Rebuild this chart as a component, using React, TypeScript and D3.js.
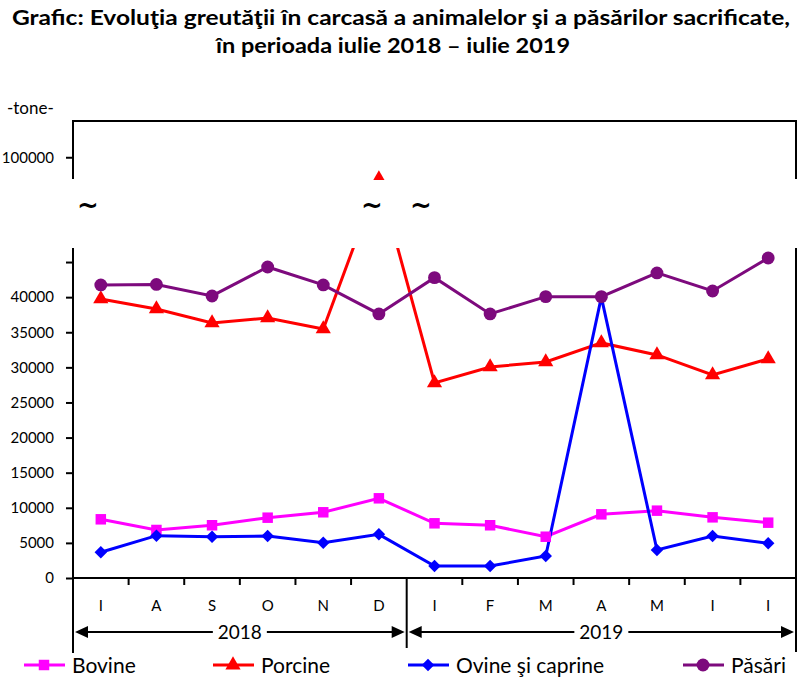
import React, { useEffect, useRef } from 'react';
import * as d3 from 'd3';

// months from iulie 2018 to iulie 2019
const months = ['I', 'A', 'S', 'O', 'N', 'D', 'I', 'F', 'M', 'A', 'M', 'I', 'I'];
const yearSpans = [
  { label: '2018', from: 0, to: 6 },
  { label: '2019', from: 6, to: 13 },
];

// tone, carcass weight
const bovine = [8360, 6840, 7510, 8590, 9360, 11350, 7790, 7510, 5880, 9070, 9590, 8640, 7880];
const porcine = [39740, 38320, 36320, 37040, 35470, 97000, 27780, 30060, 30770, 33480, 31770, 28920, 31200];
const ovine = [3660, 6030, 5890, 5980, 5030, 6220, 1710, 1710, 3130, 40000, 3990, 5980, 4940];
const pasari = [41740, 41810, 40170, 44300, 41740, 37610, 42780, 37610, 40070, 40070, 43450, 40880, 45580];

const tickValues = [0, 5000, 10000, 15000, 20000, 25000, 30000, 35000, 40000, 45000, 100000];
const tickLabels = ['0', '5000', '10000', '15000', '20000', '25000', '30000', '35000', '40000', '', '100000'];

// axis break: values between lowMax and highMin are not shown
const lowMax = 47000;
const highMin = 97000;
const highMax = 105000;

const series = [
  { name: 'Bovine', values: bovine, color: '#ff00ff', marker: 'square' },
  { name: 'Porcine', values: porcine, color: '#ff0000', marker: 'triangle' },
  { name: 'Ovine şi caprine', values: ovine, color: '#0000ff', marker: 'diamond' },
  { name: 'Păsări', values: pasari, color: '#7d0a7d', marker: 'circle' },
];

const FONT = 'Lato, "Open Sans", sans-serif';

function markerPath(kind: string) {
  if (kind === 'square') return d3.symbol(d3.symbolSquare, 110)();
  if (kind === 'triangle') return d3.symbol(d3.symbolTriangle, 100)();
  if (kind === 'diamond') return d3.symbol(d3.symbolSquare, 78)();
  return d3.symbol(d3.symbolCircle, 130)();
}

function drawMarker(g: any, kind: string, color: string, cx: number, cy: number) {
  g.append('path')
    .attr('d', markerPath(kind))
    .attr('fill', color)
    .attr('transform', `translate(${cx},${cy})` + (kind === 'diamond' ? ' rotate(45)' : ''));
}

export default function App() {
  const ref = useRef<SVGSVGElement>(null);

  useEffect(() => {
    const svg = d3.select(ref.current);
    svg.selectAll('*').remove();

    const left = 73, right = 796;
    const zeroY = 578;
    const breakBottom = 248, breakTop = 179, frameTop = 121;

    const x = d3.scaleBand<number>().domain(d3.range(months.length)).range([left, right]);
    const cx = (i: number) => (x(i) as number) + x.bandwidth() / 2;
    const y = d3.scaleLinear()
      .domain([0, lowMax, highMin, highMax])
      .range([zeroY, breakBottom, breakTop, frameTop]);

    // title
    const title = svg.append('g').attr('font-family', FONT).attr('font-weight', 700)
      .attr('font-size', 21).attr('fill', '#000').attr('text-anchor', 'middle');
    title.append('text').attr('x', 401).attr('y', 25)
      .attr('textLength', 778).attr('lengthAdjust', 'spacingAndGlyphs')
      .text('Grafic: Evoluţia greutăţii în carcasă a animalelor şi a păsărilor sacrificate,');
    title.append('text').attr('x', 393).attr('y', 53)
      .attr('textLength', 354).attr('lengthAdjust', 'spacingAndGlyphs')
      .text('în perioada iulie 2018 – iulie 2019');

    // series lines and markers
    const plot = svg.append('g');
    const line = d3.line<number>().x((_, i) => cx(i)).y(d => y(d));
    series.forEach(s => {
      plot.append('path')
        .datum(s.values)
        .attr('d', line)
        .attr('fill', 'none')
        .attr('stroke', s.color)
        .attr('stroke-width', 3);
    });
    series.forEach(s => {
      s.values.forEach((v, i) => drawMarker(plot, s.marker, s.color, cx(i), y(v)));
    });

    // blank band for the axis break
    svg.append('rect')
      .attr('x', left + 1).attr('y', breakTop + 1)
      .attr('width', right - left - 2).attr('height', breakBottom - breakTop - 1)
      .attr('fill', '#fff');

    svg.append('g').attr('font-family', '"DejaVu Sans", sans-serif').attr('font-size', 26)
      .attr('text-anchor', 'middle').attr('font-weight', 700)
      .selectAll('text').data([88, 372, 421]).enter().append('text')
      .attr('x', d => d).attr('y', 214).text('~');

    // frame and axes
    const ax = svg.append('g').attr('stroke', '#000').attr('stroke-width', 2).attr('fill', 'none');
    ax.append('path').attr('d',
      `M${left},${breakTop}V${frameTop}H${right}V${breakTop}` +
      `M${left},${breakBottom}V653M${right},${breakBottom}V652` +
      `M${left},${zeroY}H${right}`);

    // y ticks
    const yAxis = svg.append('g')
      .attr('transform', `translate(${left},0)`)
      .call(d3.axisLeft(y).tickValues(tickValues).tickSize(7).tickPadding(12)
        .tickFormat((_, i) => tickLabels[i]));
    yAxis.select('.domain').remove();
    yAxis.selectAll('line').attr('stroke', '#000').attr('stroke-width', 2);
    yAxis.selectAll('text').attr('font-family', FONT).attr('font-size', 15).attr('fill', '#000');

    svg.append('text').attr('x', 7).attr('y', 114)
      .attr('font-family', FONT).attr('font-size', 17).text('-tone-');

    // x ticks at month boundaries
    const bounds = d3.range(months.length + 1).map(i => left + i * x.bandwidth());
    svg.append('g').selectAll('line').data(bounds.slice(1, -1)).enter().append('line')
      .attr('x1', d => d).attr('x2', d => d)
      .attr('y1', zeroY).attr('y2', (_, i) => (i === 5 ? 648 : zeroY + 7))
      .attr('stroke', '#000').attr('stroke-width', 2);

    svg.append('g').attr('font-family', FONT).attr('font-size', 15).attr('text-anchor', 'middle')
      .selectAll('text').data(months).enter().append('text')
      .attr('x', (_, i) => cx(i)).attr('y', 611).text(d => d);

    // year spans with arrows
    const arrowY = 632;
    const yr = svg.append('g');
    yearSpans.forEach(sp => {
      const x0 = bounds[sp.from] + 2;
      const x1 = bounds[sp.to] - 2;
      const mid = (x0 + x1) / 2;
      const gap = 27;
      yr.append('path')
        .attr('d', `M${x0 + 10},${arrowY}H${mid - gap}M${mid + gap},${arrowY}H${x1 - 10}`)
        .attr('stroke', '#000').attr('stroke-width', 2);
      yr.append('path')
        .attr('d', `M${x0},${arrowY}l13,-6v12z M${x1},${arrowY}l-13,-6v12z`)
        .attr('fill', '#000');
      yr.append('text').attr('x', mid).attr('y', arrowY + 7)
        .attr('font-family', FONT).attr('font-size', 19).attr('text-anchor', 'middle')
        .text(sp.label);
    });

    // legend
    const legendX = [24, 213, 408, 683];
    const legend = svg.append('g');
    series.forEach((s, i) => {
      const lx = legendX[i];
      const ly = 665;
      legend.append('line').attr('x1', lx).attr('x2', lx + 41).attr('y1', ly).attr('y2', ly)
        .attr('stroke', s.color).attr('stroke-width', 3);
      drawMarker(legend, s.marker, s.color, lx + 20, ly);
      legend.append('text').attr('x', lx + 48).attr('y', ly + 8)
        .attr('font-family', FONT).attr('font-size', 21).text(s.name);
    });
  }, []);

  return (
    <svg ref={ref} width={800} height={690}
      style={{ position: 'absolute', left: 0, top: 0, background: '#fff' }} />
  );
}
